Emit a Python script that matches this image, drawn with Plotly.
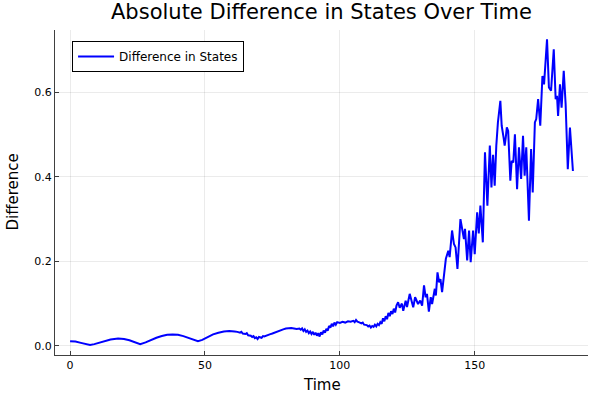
import plotly.graph_objects as go

# Time values and corresponding absolute differences
time = [
    0, 2, 4, 6, 7.4, 9, 11, 13, 15, 17.8, 20, 22, 24, 26, 28, 30, 32, 34, 36, 38,
    40, 42, 44, 46, 47.4, 49, 51, 53, 55, 57, 59, 60,
    61, 62, 63, 63.5, 64, 65, 65.5, 66, 67, 67.5, 68, 68.5, 69, 69.5, 70, 71, 71.5, 72,
    73, 74, 75, 76, 77, 78, 79, 80, 81, 82, 83, 84, 85, 85.5, 86, 86.5, 87, 87.5, 88, 88.5,
    89, 89.5, 90, 90.5, 91, 91.5, 92, 92.5, 93, 93.5, 94, 94.5, 95, 95.5, 96, 96.5, 97, 97.5,
    98, 98.5, 99, 100, 101, 102, 103, 104, 105, 105.5, 106, 106.5, 107, 108, 108.5, 109,
    110, 110.5, 111, 111.5, 112, 112.5, 113, 113.5, 114, 114.5, 115, 115.5, 116, 116.5,
    117, 117.5, 118, 118.5, 119, 119.5, 120, 120.5, 121, 121.6, 122.2,
    123.0, 123.5, 124.4, 124.9, 125.9, 127.2, 127.9, 129, 129.8, 130.5, 131.2, 131.8, 132.3,
    133, 133.7, 134.2, 135.2, 135.6, 136.2, 136.8, 137.3, 137.9, 138.6, 139.3, 140.2, 140.7,
    141.6, 142.3, 142.9, 143.6, 144.7, 145.4, 146.0, 146.4, 147.2, 147.9, 148.5, 149.4, 150,
    150.9, 151.5, 152.1, 153.0, 153.8, 154.7, 155.6, 156.2, 156.8, 157.4, 158, 158.6, 159.5,
    160, 160.7, 161.1, 161.5, 161.9, 162.4, 163.2, 163.7, 164.3, 164.9, 165.7, 166.4, 167.2,
    167.9, 168.5, 169.1, 170.1, 170.9, 171.5, 172.3, 172.8, 173.5, 174.3, 175.1, 175.7, 176.8,
    177.5, 178.3, 179.3, 180, 180.5, 180.9, 181.6, 182.2, 183, 183.7, 184.2, 184.5, 185.3,
    185.9, 186.4,
]
difference = [
    0.011, 0.010, 0.007, 0.004, 0.002, 0.004, 0.008, 0.012, 0.015, 0.017, 0.016, 0.013, 0.008,
    0.004, 0.008, 0.014, 0.019, 0.023, 0.026, 0.027, 0.026, 0.023, 0.019, 0.014, 0.011, 0.014,
    0.021, 0.027, 0.031, 0.034, 0.035, 0.035,
    0.034, 0.033, 0.031, 0.033, 0.029, 0.028, 0.030, 0.025, 0.024, 0.021, 0.023, 0.018, 0.020,
    0.016, 0.021, 0.019, 0.023, 0.022,
    0.025, 0.027, 0.029, 0.032, 0.034, 0.037, 0.039, 0.041, 0.042, 0.042, 0.041, 0.040, 0.041,
    0.038, 0.041, 0.035, 0.039, 0.033, 0.036, 0.030,
    0.034, 0.028, 0.033, 0.026, 0.031, 0.024, 0.030, 0.022, 0.032, 0.027, 0.036, 0.031, 0.040,
    0.036, 0.047, 0.043, 0.052, 0.046,
    0.055, 0.050, 0.056, 0.054, 0.057, 0.055, 0.058, 0.057, 0.059, 0.056, 0.061, 0.057, 0.056,
    0.053, 0.055, 0.050,
    0.049, 0.046, 0.048, 0.043, 0.047, 0.045, 0.050, 0.046, 0.052, 0.049, 0.056, 0.052, 0.065,
    0.058,
    0.070, 0.063, 0.078, 0.070, 0.082, 0.075, 0.088, 0.079, 0.095, 0.103, 0.090,
    0.100, 0.083, 0.107, 0.092, 0.123, 0.091, 0.115, 0.099, 0.107, 0.095, 0.143, 0.115, 0.123,
    0.081, 0.115, 0.099, 0.135, 0.119, 0.174, 0.150, 0.158, 0.127, 0.170, 0.206, 0.225, 0.210,
    0.273, 0.241, 0.233, 0.182, 0.300, 0.269, 0.253, 0.277, 0.202, 0.273, 0.198, 0.273, 0.217,
    0.316, 0.266, 0.332, 0.245, 0.458, 0.332, 0.474, 0.375, 0.452, 0.379, 0.474, 0.529, 0.580,
    0.521, 0.493, 0.474, 0.493, 0.517, 0.509, 0.391, 0.438, 0.434, 0.501, 0.371, 0.470, 0.395,
    0.497, 0.403, 0.470, 0.296, 0.466, 0.363, 0.529, 0.537, 0.584, 0.521, 0.639, 0.619, 0.726,
    0.612, 0.604, 0.702, 0.584, 0.592, 0.544, 0.619, 0.564, 0.651, 0.572, 0.474, 0.418, 0.517,
    0.450, 0.414,
]

x_ticks = [0, 50, 100, 150]
y_ticks = [0.0, 0.2, 0.4, 0.6]
y_tick_labels = ["0.0", "0.2", "0.4", "0.6"]

FONT = "DejaVu Sans"

fig = go.Figure()
fig.add_trace(go.Scatter(
    x=time, y=difference, mode="lines", name="Difference in States",
    line=dict(color="rgb(0,0,255)", width=2),
))

axis_common = dict(
    showgrid=True, gridcolor="rgba(0,0,0,0.08)", gridwidth=0.5,
    showline=True, linecolor="rgba(0,0,0,0.75)", linewidth=1,
    ticks="inside", ticklen=4, tickcolor="rgba(0,0,0,0.75)",
    zeroline=False, mirror=False, automargin=False,
    tickfont=dict(family=FONT, size=11, color="black"),
)

tmax = max(time)
dmax = max(difference)
fig.update_layout(
    width=600, height=400,
    paper_bgcolor="white", plot_bgcolor="white",
    margin=dict(l=55, r=12, t=30, b=45),
    xaxis=dict(range=[-0.03 * tmax, 1.03 * tmax], tickvals=x_ticks, **axis_common),
    yaxis=dict(range=[-0.03 * dmax, 1.03 * dmax], tickvals=y_ticks, ticktext=y_tick_labels,
               **axis_common),
    legend=dict(x=0.032, y=0.966, xanchor="left", yanchor="top",
                bordercolor="black", borderwidth=1, bgcolor="white", itemwidth=36,
                font=dict(family=FONT, size=12, color="black")),
    showlegend=True,
    annotations=[
        dict(text="Absolute Difference in States Over Time", xref="paper", yref="paper",
             x=0.5, y=1, yshift=18, xanchor="center", yanchor="middle", showarrow=False,
             font=dict(family=FONT, size=21, color="black")),
        dict(text="Time", xref="paper", yref="paper", x=0.5, y=0, yshift=-30,
             xanchor="center", yanchor="middle", showarrow=False,
             font=dict(family=FONT, size=15, color="black")),
        dict(text="Difference", xref="paper", yref="paper", x=0, y=0.5, xshift=-43,
             xanchor="center", yanchor="middle", textangle=-90, showarrow=False,
             font=dict(family=FONT, size=15, color="black")),
    ],
)

fig.write_html("out.html", post_script="document.body.style.margin='0';",
               config={"displayModeBar": False})
